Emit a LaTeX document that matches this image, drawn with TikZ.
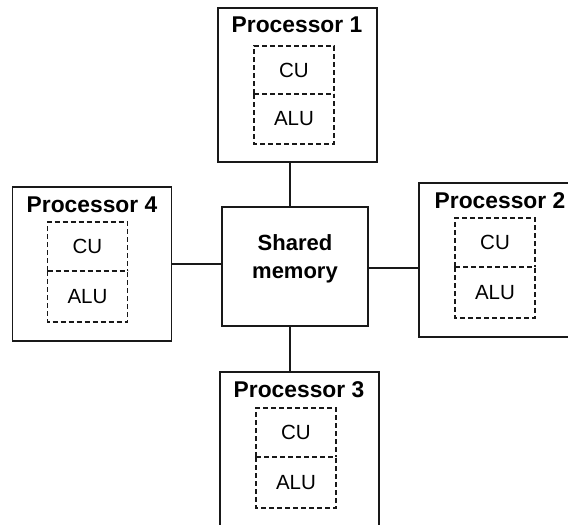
\documentclass[tikz,border=0pt]{standalone}
\usepackage{fontspec}
\setmainfont{Liberation Sans}
\begin{document}
\begin{tikzpicture}[x=1pt,y=-1pt,
  procbox/.style={draw=black!90, line width=1.3pt, fill=white, inner sep=0pt, outer sep=0pt,
                  minimum width=159pt, minimum height=154pt},
  dashline/.style={draw=black!90, line width=1.3pt, dash pattern=on 5pt off 3pt},
  unitbox/.style={inner sep=0pt, outer sep=0pt,
                  minimum width=80pt, font=\fontsize{20.5}{24}\selectfont},
  title/.style={anchor=base, inner sep=0pt, font=\bfseries\fontsize{22.8}{26}\selectfont},
  link/.style={draw=black!90, line width=1.3pt}]
\useasboundingbox (0,0) rectangle (568,525);
\begin{scope}
\clip (0,0) rectangle (568,525);

% processor frames
\node[procbox] (p1) at (297.5,85) {};
\node[procbox] (p2) at (498.5,260) {};
\node[procbox] (p3) at (299.5,449) {};
\node[procbox] (p4) at (92,264) {};

% shared memory
\node[draw=black!90, line width=1.3pt, inner sep=0pt, outer sep=0pt,
      minimum width=146pt, minimum height=119pt] (sm) at (295,266.5) {};
\node[align=center, inner sep=0pt, font=\bfseries\fontsize{22}{28}\selectfont] (smtext) at (295,259) {Shared\\memory};

% titles
\node[title] (t1) at (297,32) {Processor 1};
\node[title] (t2) at (500,208) {Processor 2};
\node[title] (t3) at (299,397) {Processor 3};
\node[title] (t4) at (92,212) {Processor 4};

% control and arithmetic units
\node[unitbox, minimum height=48pt] (cu1) at (294,70) {CU};
\node[unitbox, minimum height=50pt] (alu1) at (294,119) {ALU};
\node[unitbox, minimum height=49pt] (cu2) at (495,242.5) {CU};
\node[unitbox, minimum height=51pt] (alu2) at (495,292.5) {ALU};
\node[unitbox, minimum height=49pt] (cu3) at (296,432.5) {CU};
\node[unitbox, minimum height=51pt] (alu3) at (296,482.5) {ALU};
\node[unitbox, minimum height=49pt] (cu4) at (87.5,246.5) {CU};
\node[unitbox, minimum height=51pt] (alu4) at (87.5,296.5) {ALU};

% dashed outlines: each unit pair shares one dividing line
\foreach \u in {1,2,3,4}{
  \draw[dashline] (cu\u.south west) -- (cu\u.north west) -- (cu\u.north east) -- (cu\u.south east);
  \draw[dashline] (cu\u.south west) -- (cu\u.south east);
  \draw[dashline] (alu\u.north west) -- (alu\u.south west) -- (alu\u.south east) -- (alu\u.north east);
}

% connectors
\coordinate (vx) at (290,0);
\coordinate (hl) at (0,264);
\coordinate (hr) at (0,268);
\draw[link] (p1.south -| vx) -- (sm.north -| vx);
\draw[link] (sm.south -| vx) -- (p3.north -| vx);
\draw[link] (p4.east |- hl) -- (sm.west |- hl);
\draw[link] (sm.east |- hr) -- (p2.west |- hr);
\end{scope}
\end{tikzpicture}
\end{document}
